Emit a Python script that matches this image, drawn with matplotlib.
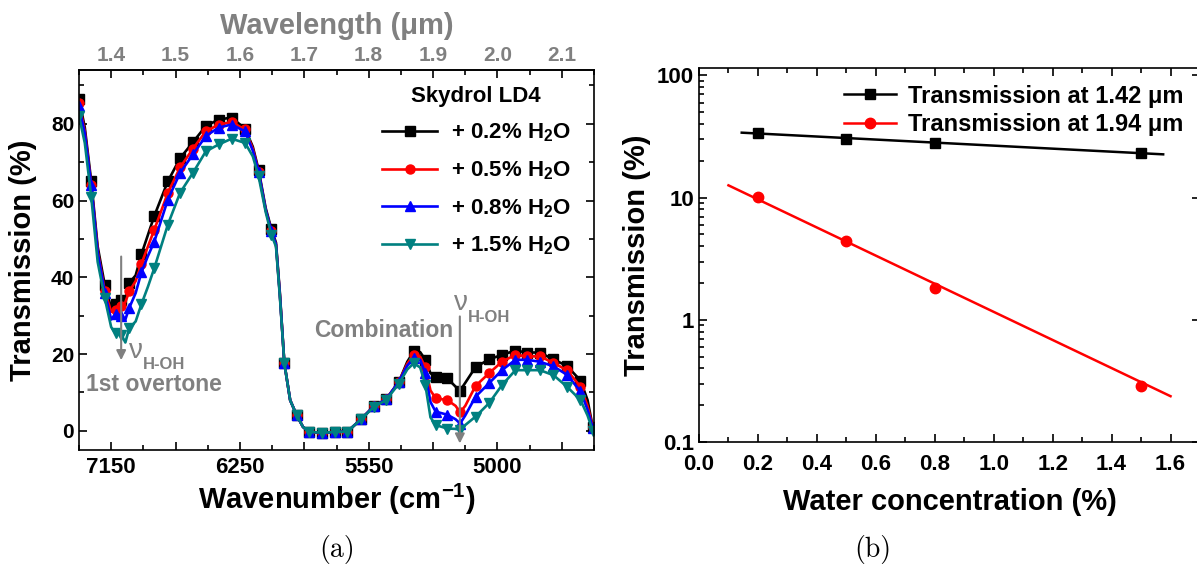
import numpy as np
import matplotlib.pyplot as plt
from matplotlib.lines import Line2D

plt.rcParams['font.family'] = ['Liberation Sans', 'DejaVu Sans']
plt.rcParams['font.weight'] = 'bold'
plt.rcParams['mathtext.fontset'] = 'custom'
plt.rcParams['mathtext.rm'] = 'Liberation Sans:bold'
plt.rcParams['mathtext.bf'] = 'Liberation Sans:bold'
plt.rcParams['mathtext.it'] = 'Liberation Sans:bold'
plt.rcParams['axes.linewidth'] = 1.2

# ---- panel (a): spectra vs wavelength (um) ----
wl = [1.350, 1.359, 1.369, 1.379, 1.390, 1.400, 1.407, 1.416, 1.422, 1.428,
      1.438, 1.447, 1.457, 1.467, 1.488, 1.507, 1.527, 1.547, 1.567, 1.587,
      1.608, 1.620, 1.629, 1.640, 1.649, 1.656, 1.662, 1.669, 1.678, 1.688,
      1.698, 1.708, 1.728, 1.748, 1.767, 1.788, 1.808, 1.827, 1.847, 1.860,
      1.870, 1.880, 1.888, 1.896, 1.904, 1.922, 1.935, 1.942, 1.950, 1.966,
      1.987, 2.007, 2.028, 2.046, 2.066, 2.087, 2.108, 2.129, 2.140, 2.148]
wl_marks = [1.350, 1.369, 1.390, 1.407, 1.416, 1.428, 1.447, 1.467, 1.488, 1.507,
            1.527, 1.547, 1.567, 1.587, 1.608, 1.629, 1.649, 1.669, 1.688, 1.708,
            1.728, 1.748, 1.767, 1.788, 1.808, 1.827, 1.847, 1.870, 1.888, 1.904,
            1.922, 1.942, 1.966, 1.987, 2.007, 2.028, 2.046, 2.066, 2.087, 2.108,
            2.129, 2.148]

t_02 = [86.5, 79, 65, 48, 38, 32, 33, 34, 34.5, 38.5,
        40.5, 46, 51, 56, 65, 71, 75.2, 79.4, 81.1, 81.6,
        78.7, 74, 68, 58, 52.5, 49, 36, 17.6, 8, 4.1,
        1, -0.3, -0.5, -0.3, -0.2, 3.0, 6.4, 8.2, 12.8, 18,
        20.7, 20.5, 18.5, 15, 14.1, 13.7, 11.5, 10.5, 12.5, 16.6,
        18.6, 19.8, 20.9, 20.4, 20.4, 18.6, 16.9, 13.1, 8, 1]
t_05 = [85.5, 78, 64, 47, 36.5, 31, 31.5, 32.5, 33.5, 36.3,
        39, 43.5, 48, 52.4, 62, 68.6, 73.5, 78, 79.8, 80.4,
        78.5, 73.5, 67.5, 57.5, 52, 48.5, 35.5, 17.6, 8, 4.1,
        1, -0.3, -0.5, -0.3, -0.2, 3.0, 6.4, 8.2, 12.8, 17.5,
        19.8, 19.3, 16.5, 10.5, 8.5, 8.0, 6.5, 4.8, 6.5, 11.7,
        15, 18, 19.8, 19.4, 19.4, 17.7, 15.8, 11.5, 6.5, 1]
t_08 = [84.5, 77.5, 64, 46.5, 36, 29, 30.5, 30, 29, 32,
        35.9, 41.3, 45.5, 49.3, 60.2, 67.2, 72, 76.8, 79, 79.8,
        78, 73, 67.5, 57.5, 52, 48.5, 35.5, 17.6, 8, 4.1,
        1, -0.3, -0.5, -0.3, -0.2, 3.0, 6.4, 8.2, 12.8, 17,
        18.9, 18.5, 15, 7.5, 5, 4.2, 3.0, 1.9, 4, 8.9,
        12.4, 15.8, 18.5, 18.5, 18.0, 16.8, 14.6, 10.3, 5.5, 0.8]
t_15 = [82, 75, 61, 44, 34.6, 27, 25.4, 25, 23, 26.7,
        28.5, 33, 37.5, 42.4, 53.7, 62, 67.2, 72.8, 74.6, 76.1,
        75, 71.5, 66.3, 57, 51, 48, 35, 17.6, 8, 4.1,
        1, -0.3, -0.5, -0.3, -0.2, 3.0, 6.2, 8.0, 12.3, 16,
        17.6, 16.5, 12, 3.5, 1.5, 0.6, 0.5, 0.3, 1.5, 3.7,
        7.2, 11.9, 15.8, 15.8, 15.8, 14.5, 11.5, 8, 4, 0]

series_labels = ['+ 0.2% H$_2$O', '+ 0.5% H$_2$O', '+ 0.8% H$_2$O', '+ 1.5% H$_2$O']
series_colors = ['black', '#ff0000', '#0000ff', '#008080']
series_markers = ['s', 'o', '^', 'v']

top_ticks = [1.4, 1.5, 1.6, 1.7, 1.8, 1.9, 2.0, 2.1]
bottom_tick_pos = [1.4, 1.6, 1.8, 2.0]
bottom_tick_labels = ['7150', '6250', '5550', '5000']

# ---- panel (b): transmission vs water concentration ----
conc = [0.2, 0.5, 0.8, 1.5]
t_142 = [33.5, 30.0, 28.0, 23.0]
t_194 = [10.2, 4.4, 1.83, 0.286]
fit142_x = [0.145, 1.575]
fit142_y = [34.0, 22.6]
fit194_x = [0.10, 1.60]
fit194_y = [12.6, 0.237]

W, H = 1197, 568
fig = plt.figure(figsize=(W / 100, H / 100), dpi=100)
ax1 = fig.add_axes([79 / W, 1 - 450 / H, (594 - 79) / W, (450 - 70) / H])
ax2 = fig.add_axes([699 / W, 1 - 442 / H, (1200 - 699) / W, (442 - 68) / H])

gray = '#808080'
tick_fs = 15
label_fs = 21

wl = np.array(wl)
mask = np.isin(wl, wl_marks)
idx = list(np.where(mask)[0])
for t, lab, c, m in zip([t_02, t_05, t_08, t_15], series_labels, series_colors, series_markers):
    ax1.plot(wl, t, color=c, lw=1.9, marker=m, ms=6.5, markevery=idx, label=lab)

ax1.set_xlim(1.35, 2.15)
ax1.set_ylim(-5, 94)
ax1.set_xticks(top_ticks)
ax1.set_xticklabels([bottom_tick_labels[bottom_tick_pos.index(v)] if v in bottom_tick_pos else ''
                     for v in top_ticks])
ax1.set_xticks(np.arange(1.35, 2.16, 0.1), minor=True)
ax1.set_yticks([0, 20, 40, 60, 80])
ax1.set_yticks([10, 30, 50, 70, 90], minor=True)
ax1.tick_params(which='both', direction='in', width=1.2, labelsize=tick_fs, right=True)
ax1.tick_params(which='major', length=6)
ax1.tick_params(which='minor', length=3.5)
ax1.tick_params(axis='x', which='major', labelsize=16, pad=5)
ax1.set_xlabel('Wavenumber (cm$^{-1}$)', fontsize=label_fs, fontweight='bold', labelpad=3)
ax1.set_ylabel('Transmission (%)', fontsize=label_fs, fontweight='bold', labelpad=10)

sec = ax1.secondary_xaxis('top')
sec.set_xticks(top_ticks)
sec.set_xticks(np.arange(1.35, 2.16, 0.1), minor=True)
sec.tick_params(which='both', direction='in', width=1.2, labelsize=tick_fs, labelcolor=gray)
sec.tick_params(which='major', length=6)
sec.tick_params(which='minor', length=3.5)
sec.set_xlabel('Wavelength (μm)', fontsize=label_fs, fontweight='bold', color=gray, labelpad=9)

leg1 = ax1.legend(loc='upper right', bbox_to_anchor=(0.985, 1.0), frameon=False,
                  fontsize=16, title='Skydrol LD4', handlelength=2.5, handletextpad=0.6,
                  labelspacing=0.68, borderpad=0.2)
leg1.get_title().set_fontsize(16)
leg1.get_title().set_fontweight('bold')

# annotations
arrow_kw = dict(arrowstyle='-|>', color=gray, lw=1.5, mutation_scale=14, shrinkA=0, shrinkB=0)
ax1.annotate('', xy=(1.4155, 18.4), xytext=(1.4155, 45.4), arrowprops=arrow_kw)
ax1.text(1.4284, 18.9, 'ν', color=gray, fontsize=20, fontweight='normal', ha='left', va='baseline')
ax1.text(1.449, 16.0, 'H-OH', color=gray, fontsize=12, ha='left', va='baseline')
ax1.text(1.467, 10.4, '1st overtone', color=gray, fontsize=16.5, ha='center', va='baseline')

ax1.annotate('', xy=(1.9416, -3.3), xytext=(1.9416, 29.8), arrowprops=arrow_kw)
ax1.text(1.932, 31.5, 'ν', color=gray, fontsize=20, fontweight='normal', ha='left', va='baseline')
ax1.text(1.954, 28.4, 'H-OH', color=gray, fontsize=12, ha='left', va='baseline')
ax1.text(1.931, 24.4, 'Combination', color=gray, fontsize=16.5, ha='right', va='baseline')

# panel (b)
ax2.set_yscale('log')
ax2.plot(fit142_x, fit142_y, color='black', lw=1.8)
ax2.plot(fit194_x, fit194_y, color='#ff0000', lw=1.8)
ax2.plot(conc, t_142, ls='none', marker='s', ms=7, color='black')
ax2.plot(conc, t_194, ls='none', marker='o', ms=7.5, color='#ff0000')
ax2.set_xlim(0, 1.7)
ax2.set_ylim(0.1, 115)
ax2.set_xticks(np.arange(0, 1.61, 0.2))
ax2.set_xticks(np.arange(0.1, 1.71, 0.2), minor=True)
ax2.set_yticks([0.1, 1, 10, 100])
ax2.set_yticklabels(['0.1', '1', '10', '100'])
ax2.tick_params(which='both', direction='in', width=1.2, labelsize=16, top=True, right=True)
ax2.tick_params(which='major', length=6)
ax2.tick_params(which='minor', length=3.5)
ax2.tick_params(axis='y', which='minor', right=False)
ax2.tick_params(axis='x', which='major', pad=9)
ax2.set_xlabel('Water concentration (%)', fontsize=label_fs, fontweight='bold', labelpad=9)
ax2.set_ylabel('Transmission (%)', fontsize=label_fs, fontweight='bold', labelpad=4)

handles = [Line2D([], [], color='black', marker='s', ms=7, lw=1.8),
           Line2D([], [], color='#ff0000', marker='o', ms=7.5, lw=1.8)]
ax2.legend(handles, ['Transmission at 1.42 μm', 'Transmission at 1.94 μm'], loc='upper right',
           bbox_to_anchor=(1.0, 1.0), frameon=False, fontsize=17, handlelength=2.2,
           handletextpad=0.5, labelspacing=0.25, borderpad=0.2)

fig.text(337 / W, 1 - 549 / H, '(a)', family='cmr10', fontweight='normal', fontsize=20,
         ha='center', va='center')
fig.text(873 / W, 1 - 549 / H, '(b)', family='cmr10', fontweight='normal', fontsize=20,
         ha='center', va='center')

fig.savefig('out.png', dpi=100)
